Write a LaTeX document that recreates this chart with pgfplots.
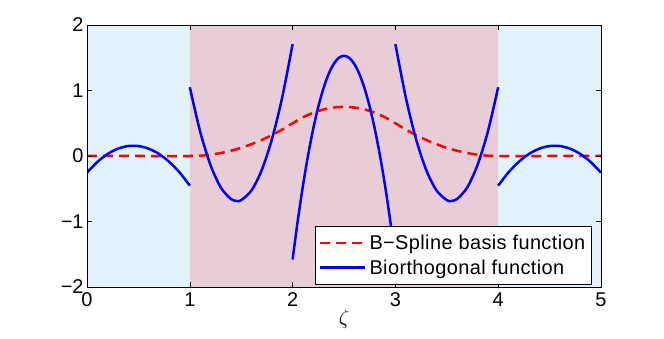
\documentclass[border=0pt]{standalone}
\usepackage{fontspec}
\setmainfont{Liberation Sans}
\usepackage{pgfplots}
\pgfplotsset{compat=1.18}

\definecolor{bgblue}{HTML}{E2F3FD}
\definecolor{bgpink}{HTML}{E8CDD6}

\begin{document}
\begin{tikzpicture}
  \begin{axis}[
      name=ax,
      scale only axis,
      width=514bp, height=262bp,
      xmin=0, xmax=5, ymin=-2, ymax=2,
      xtick={0,1,2,3,4,5},
      xticklabels={0,1,2,3,4,5},
      ytick={-2,-1,0,1,2},
      yticklabels={−2,−1,0,1,2},
      tick align=inside,
      tick pos=both,
      major tick length=5bp,
      tick style={black, line width=0.4bp},
      axis line style={black, line width=0.6bp},
      tick label style={font=\fontsize{20}{22}\selectfont},
      xticklabel style={yshift=-2bp},
      xlabel={$\zeta$},
      xlabel style={font=\fontsize{21}{23}\selectfont, yshift=3bp},
      axis on top,
      legend cell align=left,
      legend style={at={(0.9825,0.0076)}, anchor=south east,
        font=\fontsize{20}{24}\selectfont\addfontfeature{LetterSpace=2},
        draw=black, line width=0.6bp,
        inner xsep=3bp, inner ysep=5bp, row sep=1bp,
        nodes={inner xsep=3.5bp, inner ysep=4bp}},
      legend image code/.code={\draw[#1] (0bp,0bp) -- (45bp,0bp);},
    ]
    % background bands
    \addplot[draw=none, fill=bgblue, forget plot] coordinates {(0,-2) (0,2) (1,2) (1,-2)} -- cycle;
    \addplot[draw=none, fill=bgpink, forget plot] coordinates {(1,-2) (1,2) (4,2) (4,-2)} -- cycle;
    \addplot[draw=none, fill=bgblue, forget plot] coordinates {(4,-2) (4,2) (5,2) (5,-2)} -- cycle;

    % B-spline basis function (quadratic)
    \addplot[red, line width=2.5bp, dash pattern=on 10bp off 6bp, smooth] coordinates {
      (0,0) (0.5,0) (1.0,0)
      (1.1,0.005) (1.2,0.02) (1.3,0.045) (1.4,0.08) (1.5,0.125)
      (1.6,0.18) (1.7,0.245) (1.8,0.32) (1.9,0.405) (2.0,0.5)
      (2.1,0.59) (2.2,0.66) (2.3,0.71) (2.4,0.74) (2.5,0.75)
      (2.6,0.74) (2.7,0.71) (2.8,0.66) (2.9,0.59) (3.0,0.5)
      (3.1,0.405) (3.2,0.32) (3.3,0.245) (3.4,0.18) (3.5,0.125)
      (3.6,0.08) (3.7,0.045) (3.8,0.02) (3.9,0.005) (4.0,0)
      (4.5,0) (5,0)
    };
    \addlegendentry{B−Spline basis function}

    % biorthogonal function, piece by piece
    \addplot[blue, line width=2.5bp, smooth] coordinates {
      (0,-0.254) (0.1,-0.092) (0.2,0.030) (0.3,0.111) (0.4,0.152)
      (0.5,0.152) (0.6,0.112) (0.7,0.032) (0.8,-0.089) (0.9,-0.250) (1.0,-0.452)
    };
    \addlegendentry{Biorthogonal function}
    \addplot[blue, line width=2.5bp, smooth, forget plot] coordinates {
      (1.0,1.050) (1.1,0.377) (1.2,-0.132) (1.3,-0.477) (1.4,-0.657) (1.46,-0.687)
      (1.5,-0.674) (1.6,-0.526) (1.7,-0.214) (1.8,0.262) (1.9,0.902) (2.0,1.707)
    };
    \addplot[blue, line width=2.5bp, smooth, forget plot] coordinates {
      (2.0,-1.58) (2.05,-0.989) (2.1,-0.460) (2.15,0.006) (2.2,0.410)
      (2.25,0.753) (2.3,1.032) (2.35,1.250) (2.4,1.406) (2.45,1.499) (2.5,1.53)
      (2.55,1.499) (2.6,1.406) (2.65,1.250) (2.7,1.032) (2.75,0.753)
      (2.8,0.410) (2.85,0.006) (2.9,-0.460) (2.95,-0.989) (3.0,-1.58)
    };
    \addplot[blue, line width=2.5bp, smooth, forget plot] coordinates {
      (3.0,1.707) (3.1,0.902) (3.2,0.262) (3.3,-0.214) (3.4,-0.526) (3.5,-0.674)
      (3.54,-0.687) (3.6,-0.657) (3.7,-0.477) (3.8,-0.132) (3.9,0.377) (4.0,1.050)
    };
    \addplot[blue, line width=2.5bp, smooth, forget plot] coordinates {
      (4.0,-0.452) (4.1,-0.250) (4.2,-0.089) (4.3,0.032) (4.4,0.112)
      (4.5,0.152) (4.6,0.152) (4.7,0.111) (4.8,0.030) (4.9,-0.092) (5.0,-0.254)
    };
  \end{axis}
  \pgfresetboundingbox
  \useasboundingbox ([xshift=-87bp, yshift=-52bp]ax.south west)
    rectangle ([xshift=63bp, yshift=25bp]ax.north east);
\end{tikzpicture}
\end{document}
